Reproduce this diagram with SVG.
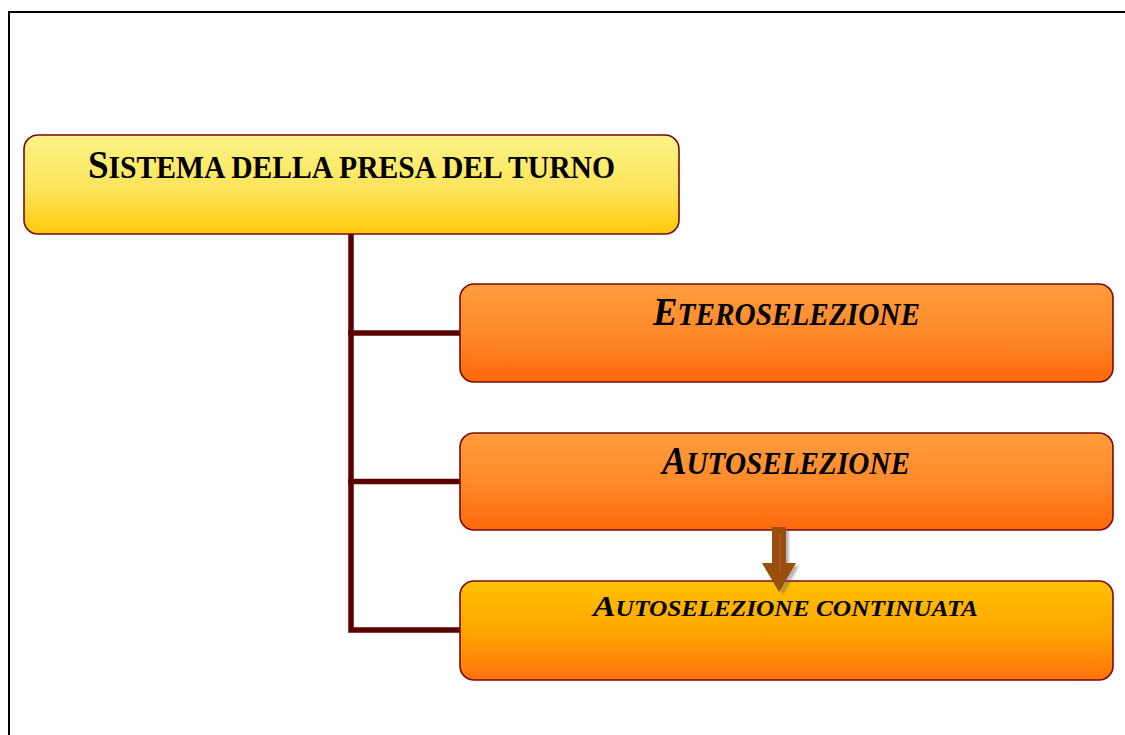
<svg xmlns="http://www.w3.org/2000/svg" width="1125" height="735" viewBox="0 0 1125 735">
  <defs>
    <linearGradient id="gYellow" x1="0" y1="0" x2="0" y2="1">
      <stop offset="0" stop-color="#FBF386"/>
      <stop offset="0.55" stop-color="#FCE45A"/>
      <stop offset="1" stop-color="#FFC90A"/>
    </linearGradient>
    <linearGradient id="gOrange" x1="0" y1="0" x2="0" y2="1">
      <stop offset="0" stop-color="#FF9C3E"/>
      <stop offset="0.5" stop-color="#FF8A2A"/>
      <stop offset="1" stop-color="#FF680A"/>
    </linearGradient>
    <linearGradient id="gGold" x1="0" y1="0" x2="0" y2="1">
      <stop offset="0" stop-color="#FFC200"/>
      <stop offset="0.5" stop-color="#FFA600"/>
      <stop offset="1" stop-color="#FF720C"/>
    </linearGradient>
    <filter id="softShadow" x="-30%" y="-30%" width="160%" height="160%">
      <feGaussianBlur stdDeviation="1.2"/>
    </filter>
  </defs>
  <style>
    .frame { stroke: #000; stroke-width: 2; fill: none; }
    .box { stroke: #7A0A0A; stroke-width: 1.6; }
    .wire { stroke: #5A0000; stroke-width: 5.5; fill: none; stroke-linecap: square; }
    .lbl { font-family: "Liberation Serif", "Times New Roman", serif; font-weight: bold; fill: #000; }
    .it { font-style: italic; }
  </style>

  <rect width="1125" height="735" fill="#fff"/>

  <!-- page frame -->
  <path class="frame" d="M9 735 V12 H1125"/>

  <!-- connectors -->
  <g id="connectors">
    <path class="wire" d="M351 234 V630 H460"/>
    <path class="wire" d="M351 333 H460"/>
    <path class="wire" d="M351 481.5 H460"/>
  </g>

  <!-- root node -->
  <g id="node-sistema">
    <rect class="box" x="24" y="135" width="655" height="99" rx="14" fill="url(#gYellow)"/>
    <text class="lbl" x="88" y="178" font-size="40" textLength="527" lengthAdjust="spacingAndGlyphs">S<tspan font-size="32">ISTEMA DELLA PRESA DEL TURNO</tspan></text>
  </g>

  <g id="node-eteroselezione">
    <rect class="box" x="460" y="284" width="653" height="98" rx="14" fill="url(#gOrange)"/>
    <text class="lbl it" x="653" y="325" font-size="39" textLength="267" lengthAdjust="spacingAndGlyphs">E<tspan font-size="31">TEROSELEZIONE</tspan></text>
  </g>

  <g id="node-autoselezione">
    <rect class="box" x="460" y="433" width="653" height="97" rx="14" fill="url(#gOrange)"/>
    <text class="lbl it" x="662" y="474" font-size="39" textLength="248" lengthAdjust="spacingAndGlyphs">A<tspan font-size="31">UTOSELEZIONE</tspan></text>
  </g>

  <g id="node-autoselezione-continuata">
    <rect class="box" x="460" y="581" width="653" height="99" rx="14" fill="url(#gGold)"/>
    <text class="lbl it" x="593" y="616" font-size="30" textLength="385" lengthAdjust="spacingAndGlyphs">A<tspan font-size="22.5">UTOSELEZIONE CONTINUATA</tspan></text>
  </g>

  <!-- block arrow between the two self-selection nodes -->
  <g id="arrow-continuation">
    <path d="M775 530 H789 V566 H799 L783 595 L765 566 H775 Z" fill="#6E5A6A" opacity="0.45" filter="url(#softShadow)"/>
    <path d="M772 527 H786 V563 H796 L779 592 L762 563 H772 Z" fill="#9A4E0B"/>
    <line x1="780" y1="534" x2="780" y2="572" stroke="#C0605A" stroke-width="1" opacity="0.8"/>
  </g>
</svg>
